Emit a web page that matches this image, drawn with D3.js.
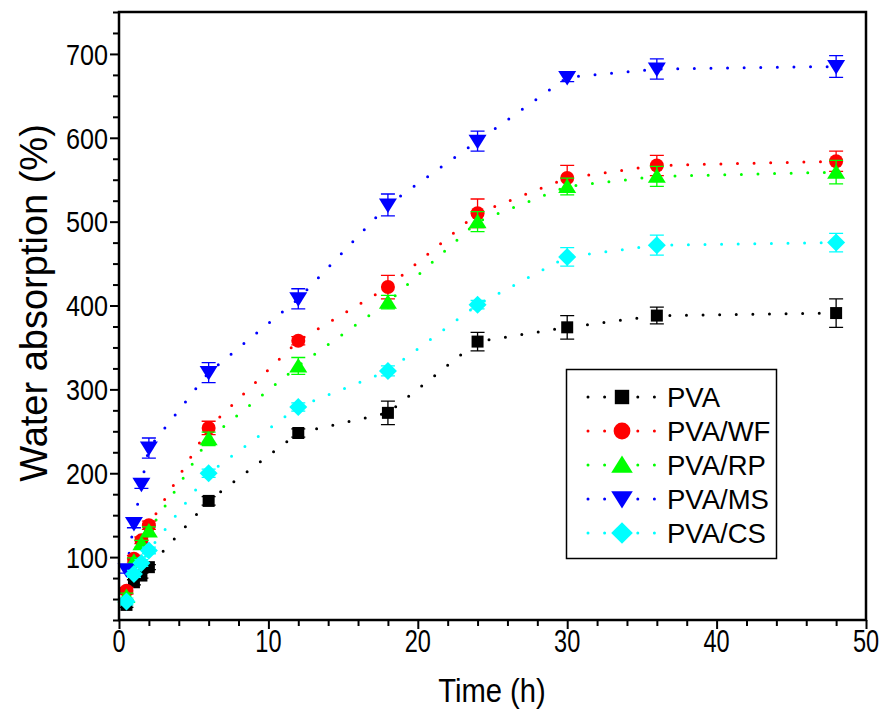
<!DOCTYPE html>
<html>
<head>
<meta charset="utf-8">
<script src="https://cdn.jsdelivr.net/npm/d3@7"></script>
<style>
  body { margin: 0; background: #fff; }
  text { font-family: "Liberation Sans", Arial, sans-serif; fill: #000; }
</style>
</head>
<body>
<div id="chart"></div>
<script>
// sampling times (h)
const times = [0.5, 1, 1.5, 2, 6, 12, 18, 24, 30, 36, 48];

// water absorption (%) per sample
const pva   = [43, 70, 78, 88, 167, 248, 272, 357, 374, 388, 391];
const pvaWF = [60, 98, 120, 138, 254, 358, 422, 510, 552, 567, 572];
const pvaRP = [53, 95, 116, 131, 241, 328, 404, 500, 542, 554, 559];
const pvaMS = [85, 140, 187, 230, 320, 408, 520, 596, 672, 682, 685];
const pvaCS = [47, 80, 93, 108, 200, 279, 322, 401, 458, 472, 475];

// standard deviations
const pvaErr   = [3, 3, 3, 3, 5, 5, 14, 11, 14, 10, 17];
const pvaWFErr = [4, 4, 4, 5, 8, 5, 14, 17, 15, 12, 12];
const pvaRPErr = [4, 4, 4, 5, 8, 10, 8, 12, 10, 12, 14];
const pvaMSErr = [4, 5, 5, 12, 12, 12, 13, 12, 5, 12, 13];
const pvaCSErr = [4, 4, 4, 4, 5, 5, 6, 5, 11, 12, 11];

const seriesNames = ['PVA', 'PVA/WF', 'PVA/RP', 'PVA/MS', 'PVA/CS'];
const seriesColors = ['#000000', '#ff0000', '#00ff00', '#0000ff', '#00ffff'];

const xTicks = [0, 10, 20, 30, 40, 50];
const yTicks = [100, 200, 300, 400, 500, 600, 700];

const width = 882;
const height = 712;

const svg = d3.select('#chart')
    .append('svg')
    .attr('width', width)
    .attr('height', height);

const x = d3.scaleLinear().domain([0, 50]).range([119, 866]);
const y = d3.scaleLinear().domain([25, 750]).range([620, 12]);

const series = [
    { name: seriesNames[0], color: seriesColors[0], shape: 'square',  values: pva,   err: pvaErr },
    { name: seriesNames[1], color: seriesColors[1], shape: 'circle',  values: pvaWF, err: pvaWFErr },
    { name: seriesNames[2], color: seriesColors[2], shape: 'up',      values: pvaRP, err: pvaRPErr },
    { name: seriesNames[3], color: seriesColors[3], shape: 'down',    values: pvaMS, err: pvaMSErr },
    { name: seriesNames[4], color: seriesColors[4], shape: 'diamond', values: pvaCS, err: pvaCSErr }
];

// marker path centred on 0,0
function markerPath(shape, k) {
    const p = d3.path();
    if (shape === 'square') {
        const s = 6 * k;
        p.rect(-s, -s, 2 * s, 2 * s);
    } else if (shape === 'circle') {
        p.arc(0, 0, 7 * k, 0, 2 * Math.PI);
    } else if (shape === 'up') {
        p.moveTo(0, -8 * k); p.lineTo(9 * k, 6.5 * k); p.lineTo(-9 * k, 6.5 * k); p.closePath();
    } else if (shape === 'down') {
        p.moveTo(0, 8 * k); p.lineTo(9 * k, -6.5 * k); p.lineTo(-9 * k, -6.5 * k); p.closePath();
    } else {
        p.moveTo(0, -9 * k); p.lineTo(9 * k, 0); p.lineTo(0, 9 * k); p.lineTo(-9 * k, 0); p.closePath();
    }
    return p.toString();
}

const line = d3.line()
    .x(d => x(d.t))
    .y(d => y(d.v));

// dotted connecting lines
series.forEach(s => {
    const pts = times.map((t, i) => ({ t, v: s.values[i], e: s.err[i] }));
    s.pts = pts;
    svg.append('path')
        .datum(pts)
        .attr('d', line)
        .attr('fill', 'none')
        .attr('stroke', s.color)
        .attr('stroke-width', 3)
        .attr('stroke-linecap', 'round')
        .attr('stroke-dasharray', '0,16.6');
});

// error bars + markers
series.forEach(s => {
    const g = svg.append('g');
    g.selectAll('.eb')
        .data(s.pts)
        .enter()
        .append('path')
        .attr('d', d => {
            const cx = x(d.t), y0 = y(d.v - d.e), y1 = y(d.v + d.e);
            return `M${cx - 7},${y0}H${cx + 7}M${cx - 7},${y1}H${cx + 7}M${cx},${y0}V${y1}`;
        })
        .attr('fill', 'none')
        .attr('stroke', s.color)
        .attr('stroke-width', 1.3);

    g.selectAll('.mk')
        .data(s.pts)
        .enter()
        .append('path')
        .attr('transform', d => `translate(${x(d.t)},${y(d.v)})`)
        .attr('d', markerPath(s.shape, 1))
        .attr('fill', s.color);
});

// axes
const xAxis = d3.axisBottom(x)
    .tickValues(d3.range(0, 51, 2))
    .tickSize(0)
    .tickFormat('');
const xAxisG = svg.append('g')
    .attr('transform', `translate(0,${y(25)})`)
    .call(xAxis);
xAxisG.select('.domain').remove();
xAxisG.selectAll('.tick line')
    .attr('y2', d => (d % 10 === 0 ? 9 : 6))
    .attr('stroke', '#000')
    .attr('stroke-width', 2);

const yAxis = d3.axisLeft(y)
    .tickValues(d3.range(25, 751, 25))
    .tickSize(0)
    .tickFormat('');
const yAxisG = svg.append('g')
    .attr('transform', `translate(${x(0)},0)`)
    .call(yAxis);
yAxisG.select('.domain').remove();
yAxisG.selectAll('.tick line')
    .attr('x2', d => (d % 100 === 0 ? -9 : -6))
    .attr('stroke', '#000')
    .attr('stroke-width', 2);

// tick labels
svg.append('g')
    .selectAll('text')
    .data(xTicks)
    .enter()
    .append('text')
    .attr('transform', d => `translate(${x(d)},652) scale(0.76,1)`)
    .attr('text-anchor', 'middle')
    .attr('font-size', 31)
    .text(d => d);

svg.append('g')
    .selectAll('text')
    .data(yTicks)
    .enter()
    .append('text')
    .attr('transform', d => `translate(108,${y(d)}) scale(0.84,1)`)
    .attr('dy', '0.36em')
    .attr('text-anchor', 'end')
    .attr('font-size', 30)
    .text(d => d);

// frame
svg.append('rect')
    .attr('x', x(0))
    .attr('y', y(750))
    .attr('width', x(50) - x(0))
    .attr('height', y(25) - y(750))
    .attr('fill', 'none')
    .attr('stroke', '#000')
    .attr('stroke-width', 2.5);

// axis titles
svg.append('text')
    .attr('transform', `translate(492,702) scale(0.86,1)`)
    .attr('text-anchor', 'middle')
    .attr('font-size', 34)
    .text('Time (h)');

svg.append('text')
    .attr('transform', `translate(47,303) rotate(-90)`)
    .attr('text-anchor', 'middle')
    .attr('font-size', 38)
    .text('Water absorption (%)');

// legend
const legend = svg.append('g');
legend.append('rect')
    .attr('x', 566.5)
    .attr('y', 369.5)
    .attr('width', 210)
    .attr('height', 189)
    .attr('fill', '#fff')
    .attr('stroke', '#000')
    .attr('stroke-width', 1.5);

const rowY = d3.scalePoint().domain(seriesNames).range([397, 533]);
series.forEach(s => {
    const ly = rowY(s.name);
    legend.append('path')
        .attr('d', `M588,${ly}H657`)
        .attr('stroke', s.color)
        .attr('stroke-width', 3)
        .attr('stroke-linecap', 'round')
        .attr('stroke-dasharray', '0,16.6');
    legend.append('path')
        .attr('transform', `translate(622,${ly})`)
        .attr('d', markerPath(s.shape, 1.2))
        .attr('fill', s.color);
    legend.append('text')
        .attr('x', 667)
        .attr('y', ly)
        .attr('dy', '0.36em')
        .attr('font-size', 27.5)
        .text(s.name);
});
</script>
</body>
</html>
